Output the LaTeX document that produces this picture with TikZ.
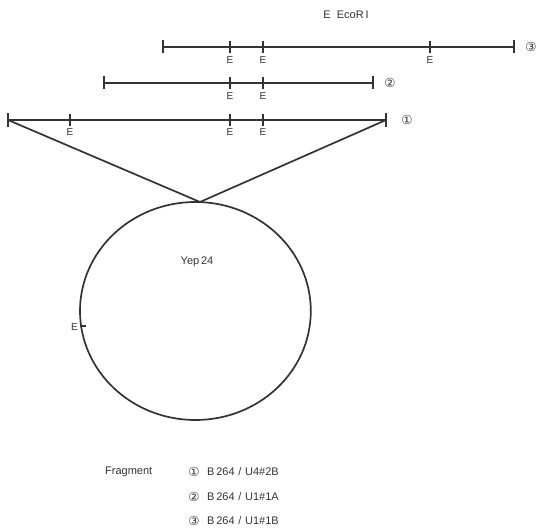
\documentclass[tikz,border=0pt]{standalone}
\usepackage{fontspec}
\setmainfont{Liberation Sans}
\newfontfamily\symfont{DejaVu Sans}
\begin{document}
\begin{tikzpicture}[x=1pt,y=-1pt,
  dna/.style={line width=1.7pt, draw=black!80},
  tick/.style={line width=1.4pt, draw=black!80},
  elab/.style={font=\fontsize{10}{11}\selectfont, inner sep=0pt, text=black!80},
  lab/.style={font=\fontsize{11}{12}\selectfont, inner sep=0pt, text=black!80},
  num/.style={font=\symfont\fontsize{12.5}{13}\selectfont, inner sep=0pt, text=black!80}]
\useasboundingbox (0,0) rectangle (539,529);
% title
\node[lab] (title) at (346,15) {E\ \ EcoR\,I};
% fragment 3
\coordinate (c3a) at (163,47);
\coordinate (c3b) at (514,47);
\draw[dna] (c3a) -- (c3b);
\draw[tick] ([yshift=-6pt]c3a) -- ([yshift=7pt]c3a);
\draw[tick] ([yshift=-6pt]c3b) -- ([yshift=7pt]c3b);
\foreach \x [count=\i] in {230,263,430}{
  \coordinate (t3\i) at (\x,47);
  \draw[tick] ([yshift=-6pt]t3\i) -- ([yshift=6pt]t3\i);
  \node[elab] (e3\i) at (\x,60) {E};
}
\node[num] (n3) at (531,47) {③};
% fragment 2
\coordinate (c2a) at (104,83);
\coordinate (c2b) at (373,83);
\draw[dna] (c2a) -- (c2b);
\draw[tick] ([yshift=-6pt]c2a) -- ([yshift=7pt]c2a);
\draw[tick] ([yshift=-6pt]c2b) -- ([yshift=7pt]c2b);
\foreach \x [count=\i] in {230,263}{
  \coordinate (t2\i) at (\x,83);
  \draw[tick] ([yshift=-6pt]t2\i) -- ([yshift=6pt]t2\i);
  \node[elab] (e2\i) at (\x,96) {E};
}
\node[num] (n2) at (390,83) {②};
% fragment 1
\coordinate (c1a) at (8,120);
\coordinate (c1b) at (386,120);
\draw[dna] (c1a) -- (c1b);
\draw[tick] ([yshift=-7pt]c1a) -- ([yshift=7pt]c1a);
\draw[tick] ([yshift=-7pt]c1b) -- ([yshift=7pt]c1b);
\foreach \x [count=\i] in {70,230,263}{
  \coordinate (t1\i) at (\x,120);
  \draw[tick] ([yshift=-6pt]t1\i) -- ([yshift=6pt]t1\i);
  \node[elab] (e1\i) at (\x,132) {E};
}
\node[num] (n1) at (407,120) {①};
% insertion lines
\coordinate (top) at (200,202);
\draw[dna] (c1a) -- (top) -- (c1b);
% plasmid
\draw[dna] (195.4,311) ellipse [x radius=115.4, y radius=109];
\coordinate (ce) at (80,326);
\draw[tick] (ce) -- ++(6,0);
\node[elab, anchor=east] (ee) at (78,327) {E};
\node[lab] (yep) at (197,262) {Yep\,24};
% legend
\node[lab, anchor=west] (frag) at (105,472) {Fragment};
\node[num] (l1) at (194,472) {①};
\node[lab, anchor=west] (f1) at (207,472) {B\,264\,\,/\,\,U4\#2B};
\node[num] (l2) at (194,497) {②};
\node[lab, anchor=west] (f2) at (207,497) {B\,264\,\,/\,\,U1\#1A};
\node[num] (l3) at (194,521) {③};
\node[lab, anchor=west] (f3) at (207,521) {B\,264\,\,/\,\,U1\#1B};
\end{tikzpicture}
\end{document}
